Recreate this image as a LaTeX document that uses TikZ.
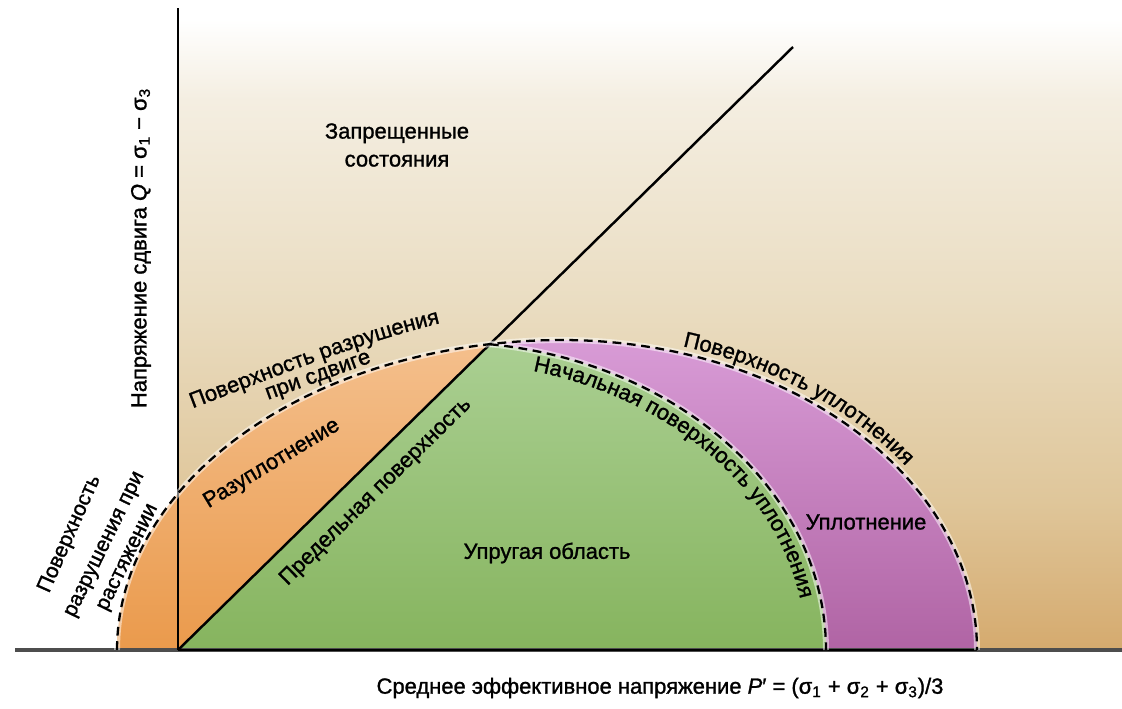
\documentclass[tikz,border=0pt]{standalone}
\usepackage{fontspec}
\setmainfont[FakeBold=1.2]{Liberation Sans}
\usetikzlibrary{decorations.text}
\definecolor{bgA}{HTML}{D5AA6E}
\definecolor{bgB}{HTML}{DFC69A}
\definecolor{bgC}{HTML}{EADDC2}
\definecolor{bgD}{HTML}{F4EEE1}
\definecolor{orT}{HTML}{F4BF8C}
\definecolor{orB}{HTML}{EA9A4C}
\definecolor{grT}{HTML}{AACF92}
\definecolor{grB}{HTML}{86B45E}
\definecolor{puT}{HTML}{D89BD6}
\definecolor{puB}{HTML}{B064A4}
\definecolor{axisgray}{HTML}{4D4D4D}
\newcommand\lblf{\fontsize{12.5}{15.9}\selectfont}
\newcommand\smlf{\fontsize{12}{14}\selectfont}
\pgfdeclareverticalshading{bgsh}{100bp}{color(0bp)=(bgA); color(25bp)=(bgA); color(36.5bp)=(bgB); color(51.9bp)=(bgC); color(67.3bp)=(bgD); color(73.5bp)=(white); color(100bp)=(white)}
\begin{document}
\begin{tikzpicture}[x=0.02cm,y=-0.02cm,
  lab/.style={font=\lblf, inner sep=0pt, text=black},
  slab/.style={font=\smlf, inner sep=0pt, text=black},
  dashcurve/.style={draw=black, line width=1.3pt, dash pattern=on 5pt off 3.2pt},
  halo/.style={draw=white, opacity=0.5, line width=3.4pt},
  curvetext/.style={decorate, decoration={text along path, text align=center, text={|\lblf|#1}}}]
\useasboundingbox (0,0) rectangle (1122,708);
\fill[white] (0,0) rectangle (1122,708);
\coordinate (O) at (178,650);
\coordinate (Ytop) at (178,8);
\coordinate (Dend) at (793,47);
\coordinate (Xl) at (15,650);
\coordinate (Xr) at (1122,650);
\coordinate (Xo) at (977,650);
% background
\shade[shading=bgsh] (178,0) rectangle (1122,650);
% orange (dilation)
\shade[top color=orT, bottom color=orB] plot[domain=180:99.3, samples=60, smooth] ({562+445*cos(\x)},{650-310*sin(\x)}) -- (O) -- cycle;
% green (elastic)
\shade[top color=grT, bottom color=grB] (O) -- plot[domain=83.1:0, samples=60, smooth] ({444+382*cos(\x)},{650-308*sin(\x)}) -- cycle;
% purple (compaction)
\shade[top color=puT, bottom color=puB] plot[domain=99.3:90, samples=5, smooth] ({562+445*cos(\x)},{650-310*sin(\x)}) -- plot[domain=90:0, samples=60, smooth] ({562+415*cos(\x)},{650-310*sin(\x)}) -- plot[domain=0:83.1, samples=60, smooth] ({444+382*cos(\x)},{650-308*sin(\x)}) -- cycle;
% axes
\draw[axisgray, line width=2.2pt] (Xl) -- (Xr);
\draw[black, line width=1.6pt] (O) -- (Xo);
\draw[black, line width=1.1pt] (Ytop) -- (O);
\draw[black, line width=1.4pt] (O) -- (Dend);
% dashed surfaces
\draw[halo] plot[domain=180:90, samples=70, smooth] ({562+445*cos(\x)},{650-310*sin(\x)}) -- plot[domain=90:0, samples=70, smooth] ({562+415*cos(\x)},{650-310*sin(\x)});
\draw[halo] plot[domain=83.1:0, samples=70, smooth] ({444+382*cos(\x)},{650-308*sin(\x)});
\draw[dashcurve] plot[domain=180:90, samples=70, smooth] ({562+445*cos(\x)},{650-310*sin(\x)}) -- plot[domain=90:0, samples=70, smooth] ({562+415*cos(\x)},{650-310*sin(\x)});
\draw[dashcurve] plot[domain=83.1:0, samples=70, smooth] ({444+382*cos(\x)},{650-308*sin(\x)});
% curved labels
\path[curvetext={Поверхность разрушения}] (188,410) .. controls (260,383) and (350,345) .. (445,322);
\path[curvetext={при сдвиге}] (262,402) -- (378,360);
\path[curvetext={Начальная поверхность уплотнения}] ([shift={(444,650)}]-80:362 and 288) arc[start angle=-80, end angle=-5, x radius=362, y radius=288];
\path[curvetext={Поверхность уплотнения}] ([shift={(562,650)}]-78:422 and 317) arc[start angle=-78, end angle=-30, x radius=422, y radius=317];
% straight labels
\node[lab, align=center] (forbid) at (397,145) {Запрещенные\\состояния};
\node[lab, rotate=90] (ylab) at (141,248) {Напряжение сдвига \textit{Q} = σ\textsubscript{1} − σ\textsubscript{3}};
\node[lab] (xlab) at (660,688) {Среднее эффективное напряжение \textit{P}′ = (σ\textsubscript{1} + σ\textsubscript{2} + σ\textsubscript{3})/3};
\node[lab] (elastic) at (547,553) {Упругая область};
\node[lab] (compact) at (866,522) {Уплотнение};
\node[lab, rotate=31] (dilat) at (272,464) {Разуплотнение};
\node[lab, rotate=44.4] (limit) at (376,492) {Предельная поверхность};
\node[slab, rotate=66] (t1) at (70,534) {Поверхность};
\node[slab, rotate=64] (t2) at (106,545) {разрушения при};
\node[slab, rotate=64] (t3) at (129,558) {растяжении};
\end{tikzpicture}
\end{document}
